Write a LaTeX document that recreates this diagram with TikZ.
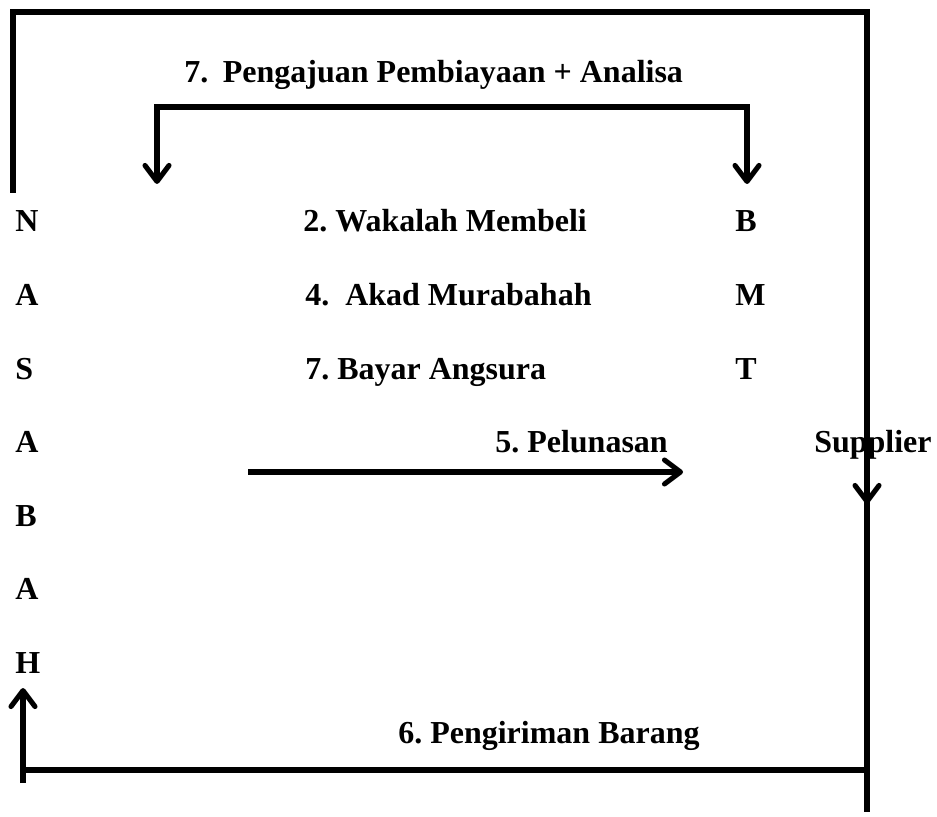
\documentclass[tikz,border=0pt]{standalone}
\usepackage{fontspec}
\setmainfont{Liberation Serif}
\usetikzlibrary{arrows.meta}
\frenchspacing
\begin{document}
\begin{tikzpicture}[x=0.75pt,y=-0.75pt,
  lbl/.style={anchor=base west,inner sep=0pt,font=\fontsize{24}{28}\selectfont\bfseries},
  conn/.style={line width=3.8pt,line join=miter},
  >={Straight Barb[length=12pt,width=18pt,line cap=round,line join=round]}]
\useasboundingbox (0,0) rectangle (937,816);

% texts
\node[lbl] (title) at (184,83) {7.\hspace{11pt}Pengajuan Pembiayaan + Analisa};
\node[lbl] (n1) at (15,232) {N};
\node[lbl] (n2) at (15,305.5) {A};
\node[lbl] (n3) at (15,379) {S};
\node[lbl] (n4) at (15,452.5) {A};
\node[lbl] (n5) at (15,526) {B};
\node[lbl] (n6) at (15,599.5) {A};
\node[lbl] (n7) at (15,673) {H};
\node[lbl] (wak) at (303,232) {2. Wakalah Membeli};
\node[lbl] (akad) at (305,305.5) {4.\ \ Akad Murabahah};
\node[lbl] (bayar) at (305,379) {7. Bayar Angsura};
\node[lbl] (b1) at (735,232) {B};
\node[lbl] (b2) at (735,305.5) {M};
\node[lbl] (b3) at (735,379) {T};
\node[lbl] (pel) at (495,452.5) {5. Pelunasan};
\node[lbl] (sup) at (814,452.5) {Supplier};
\node[lbl] (kirim) at (398,743) {6. Pengiriman Barang};

% outer frame
\coordinate (fA) at (13,193);
\coordinate (fB) at (13,12);
\coordinate (fC) at (867,12);
\coordinate (fD) at (867,812);
\draw[conn] (fA) -- (fB) -- (fC) -- (fD);
\coordinate (sFrom) at (867,450);
\coordinate (sTo) at (867,504);
\draw[conn,->] (sFrom) -- (sTo);

% top bracket
\coordinate (bL) at (157,184);
\coordinate (bLt) at (157,107);
\coordinate (bRt) at (747,107);
\coordinate (bR) at (747,184);
\draw[conn,<->] (bL) -- (bLt) -- (bRt) -- (bR);

% pelunasan arrow
\coordinate (pA) at (248,472);
\coordinate (pB) at (683,472);
\draw[conn,->] (pA) -- (pB);

% bottom
\coordinate (gA) at (867,770);
\coordinate (gB) at (23,770);
\draw[conn] (gA) -- (gB);
\coordinate (hA) at (23,783);
\coordinate (hB) at (23,688);
\draw[conn,->] (hA) -- (hB);
\end{tikzpicture}
\end{document}
